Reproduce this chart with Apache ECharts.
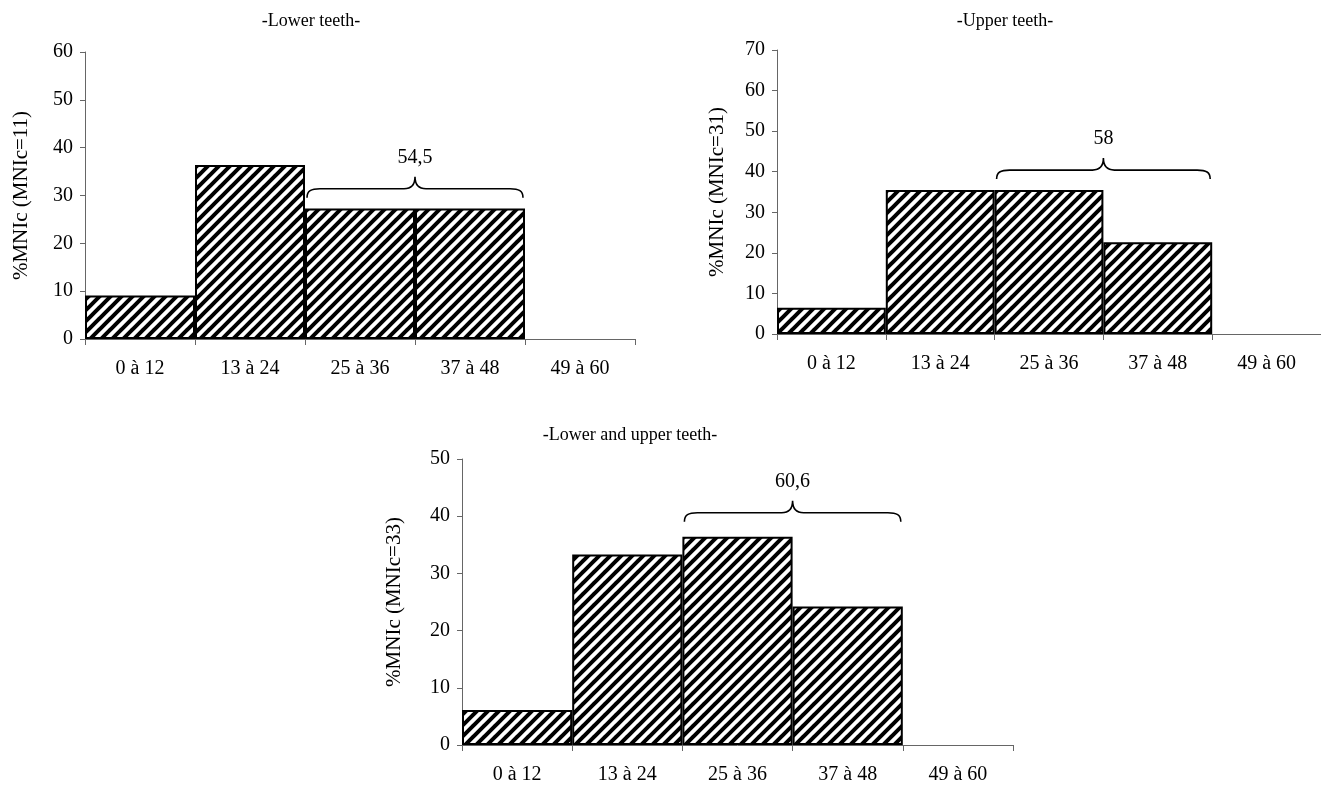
<!DOCTYPE html>
<html>
<head>
<meta charset="utf-8">
<script src="https://cdn.jsdelivr.net/npm/echarts@6/dist/echarts.min.js"></script>
<style>
html,body{margin:0;padding:0;background:#fff;}
#chart{width:1321px;height:791px;}
</style>
</head>
<body>
<div id="chart"></div>
<script>
// ---- data ----
const categories = ['0 à 12', '13 à 24', '25 à 36', '37 à 48', '49 à 60'];
const titles = ['-Lower teeth-', '-Upper teeth-', '-Lower and upper teeth-'];
const yNames = ['%MNIc (MNIc=11)', '%MNIc (MNIc=31)', '%MNIc (MNIc=33)'];
const lowerValues = [9.1, 36.4, 27.3, 27.3, 0];
const upperValues = [6.5, 35.5, 35.5, 22.6, 0];
const bothValues = [6.1, 33.3, 36.4, 24.2, 0];
const yMax = [60, 70, 50];
const yInterval = 10;
// brace: [first category index, last category index, level (y units)]
const braceLower = [2, 3, 31.4];
const braceUpper = [2, 3, 40.4];
const braceBoth = [2, 3, 40.6];
const braceLabels = ['54,5', '58', '60,6'];

// ---- styles ----
const FONT = '"Liberation Serif", "Times New Roman", serif';
function hatch() {
  const s = 11;
  const c = document.createElement('canvas');
  c.width = s; c.height = s;
  const g = c.getContext('2d');
  g.fillStyle = '#fff'; g.fillRect(0, 0, s, s);
  g.strokeStyle = '#000'; g.lineWidth = 4; g.lineCap = 'square';
  [-s, 0, s].forEach((dx) => {
    g.beginPath(); g.moveTo(dx, s); g.lineTo(dx + s, 0); g.stroke();
  });
  return c;
}
const pattern = { image: hatch(), repeat: 'repeat' };

const grids = [
  { left: 85, top: 52, width: 550, height: 287 },
  { left: 777, top: 50, width: 550, height: 284 },
  { left: 462, top: 459, width: 551, height: 286 }
];
const titlePos = [[306, 7], [1000, 7], [625, 421]];
const nameGaps = [53, 49, 57];
const seriesValues = [lowerValues, upperValues, bothValues];
const braces = [braceLower, braceUpper, braceBoth];

const option = {
  animation: false,
  backgroundColor: '#fff',
  title: titles.map((t, i) => ({
    text: t, left: titlePos[i][0], top: titlePos[i][1], textAlign: 'center',
    textStyle: { fontFamily: FONT, fontSize: 18, fontWeight: 'normal', color: '#000' }
  })),
  grid: grids,
  xAxis: grids.map((g, i) => ({
    type: 'category', gridIndex: i, data: categories, boundaryGap: true,
    axisLine: { show: true, lineStyle: { color: '#666', width: 1 } },
    axisTick: { show: true, alignWithLabel: false, length: 6, lineStyle: { color: '#666' } },
    axisLabel: { fontFamily: FONT, fontSize: 20, color: '#000', margin: 20, interval: 0 },
    splitLine: { show: false }
  })),
  yAxis: grids.map((g, i) => ({
    type: 'value', gridIndex: i, min: 0, max: yMax[i], interval: yInterval,
    name: yNames[i], nameLocation: 'middle', nameRotate: 90, nameGap: nameGaps[i],
    nameTextStyle: { fontFamily: FONT, fontSize: 21, color: '#000' },
    axisLine: { show: true, lineStyle: { color: '#666', width: 1 } },
    axisTick: { show: true, length: 5, lineStyle: { color: '#666' } },
    axisLabel: { fontFamily: FONT, fontSize: 20, color: '#000', margin: 12 },
    splitLine: { show: false }
  })),
  series: []
};

seriesValues.forEach((vals, i) => {
  option.series.push({
    type: 'bar', xAxisIndex: i, yAxisIndex: i,
    data: vals.map(v => v === 0 ? { value: v, itemStyle: { borderWidth: 0 } } : v),
    barWidth: '100%', barCategoryGap: 0,
    itemStyle: { color: pattern, borderColor: '#000', borderWidth: 2 },
    silent: true
  });
  option.series.push({
    type: 'custom', xAxisIndex: i, yAxisIndex: i, clip: false, silent: true,
    encode: { x: [0, 1], y: 2 },
    data: [[braces[i][0], braces[i][1], braces[i][2], braceLabels[i]]],
    renderItem: function (params, api) {
      const p0 = api.coord([api.value(0), api.value(2)]);
      const p1 = api.coord([api.value(1), api.value(2)]);
      const bw = api.size([1, 0])[0];
      const L = p0[0] - bw / 2 + 2, R = p1[0] + bw / 2 - 2, y = p0[1];
      const M = (L + R) / 2;
      const d = 'M' + L + ',' + (y + 9) +
        ' C' + L + ',' + (y + 2) + ' ' + (L + 4) + ',' + y + ' ' + (L + 13) + ',' + y +
        ' L' + (M - 11) + ',' + y +
        ' C' + (M - 4) + ',' + y + ' ' + M + ',' + (y - 3) + ' ' + M + ',' + (y - 12) +
        ' C' + M + ',' + (y - 3) + ' ' + (M + 4) + ',' + y + ' ' + (M + 11) + ',' + y +
        ' L' + (R - 13) + ',' + y +
        ' C' + (R - 4) + ',' + y + ' ' + R + ',' + (y + 2) + ' ' + R + ',' + (y + 9);
      return {
        type: 'group',
        children: [
          { type: 'path', shape: { pathData: d },
            style: { fill: null, stroke: '#000', lineWidth: 1.6 } },
          { type: 'text', x: M, y: y - 31,
            style: { text: braceLabels[params.seriesIndex >> 1], fontFamily: FONT, fontSize: 20,
                     fill: '#000', align: 'center', verticalAlign: 'middle' } }
        ]
      };
    }
  });
});

const chart = echarts.init(document.getElementById('chart'), null, { renderer: 'canvas' });
chart.setOption(option);
</script>
</body>
</html>
